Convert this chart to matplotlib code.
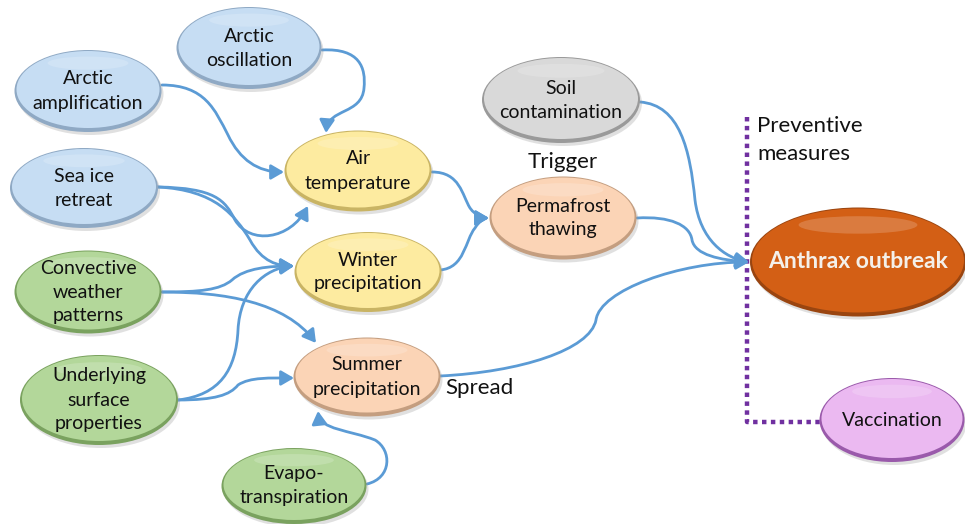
import matplotlib
matplotlib.use("Agg")
import matplotlib.pyplot as plt
from matplotlib.patches import Ellipse, FancyArrowPatch
from matplotlib.path import Path

plt.rcParams['font.family'] = ['Lato', 'DejaVu Sans']

# nodes: label, fill colour, rim colour
node_names = ["osc", "amp", "ice", "air", "winter", "summer", "conv", "under",
              "evapo", "soil", "perma", "anthrax", "vacc"]
node_labels = ["Arctic\noscillation", "Arctic\namplification", "Sea ice\nretreat",
               "Air\ntemperature", "Winter\nprecipitation", "Summer\nprecipitation",
               "Convective\nweather\npatterns", "Underlying\nsurface\nproperties",
               "Evapo-\ntranspiration", "Soil\ncontamination", "Permafrost\nthawing",
               "Anthrax outbreak", "Vaccination"]
edges = [("osc", "air"), ("amp", "air"), ("ice", "air"), ("ice", "winter"),
         ("conv", "winter"), ("conv", "summer"), ("under", "winter"),
         ("under", "summer"), ("evapo", "summer"), ("air", "perma"),
         ("winter", "perma"), ("perma", "anthrax"), ("soil", "anthrax"),
         ("summer", "anthrax")]
side_labels = ["Trigger", "Spread", "Preventive\nmeasures"]

# layout in pixel units (x right, y down)
layout = {
    "osc": (249, 48, 145, 82), "amp": (88, 91, 147, 82), "ice": (84, 188, 148, 80),
    "air": (358, 171, 147, 81), "winter": (368, 272, 147, 80),
    "summer": (367, 377, 147, 79), "conv": (88, 292, 147, 83),
    "under": (99, 400, 158, 90), "evapo": (294, 486, 145, 76),
    "soil": (561, 100, 158, 86), "perma": (563, 218, 147, 83),
    "anthrax": (858, 262, 216, 109), "vacc": (892, 420, 145, 84),
}
styles = {
    "blue": ("#c6ddf3", "#8fa9c4"), "yellow": ("#fdeba0", "#c9b464"),
    "green": ("#b3d79a", "#7aa25f"), "peach": ("#fbd4b6", "#c49e80"),
    "gray": ("#d9d9d9", "#9a9a9a"), "orange": ("#d35f15", "#9a4510"),
    "pink": ("#ebb9f1", "#9a5aab"),
}
node_style = {"osc": "blue", "amp": "blue", "ice": "blue", "air": "yellow",
              "winter": "yellow", "summer": "peach", "conv": "green",
              "under": "green", "evapo": "green", "soil": "gray",
              "perma": "peach", "anthrax": "orange", "vacc": "pink"}

# bezier routes (start, then control, control, end ...)
routes = {
    ("osc", "air"): [(322, 50), (360, 48), (366, 68), (364, 88), (362, 115), (328, 108), (326, 133)],
    ("amp", "air"): [(162, 85), (205, 85), (215, 110), (228, 135), (240, 160), (258, 172), (284, 172)],
    ("ice", "air"): [(158, 187), (215, 188), (225, 200), (235, 220), (250, 245), (290, 240), (308, 206)],
    ("ice", "winter"): [(158, 187), (215, 190), (235, 215), (250, 240), (262, 262), (278, 266), (294, 266)],
    ("conv", "winter"): [(162, 292), (200, 292), (220, 290), (232, 280), (245, 268), (270, 266), (294, 266)],
    ("conv", "summer"): [(162, 292), (225, 292), (285, 302), (316, 343)],
    ("under", "winter"): [(178, 400), (220, 395), (236, 370), (238, 330), (240, 290), (265, 268), (294, 266)],
    ("under", "summer"): [(178, 400), (215, 400), (230, 395), (238, 385), (250, 377), (270, 378), (294, 378)],
    ("evapo", "summer"): [(367, 484), (392, 478), (392, 450), (375, 440), (350, 430), (320, 430), (318, 411)],
    ("air", "perma"): [(432, 172), (460, 172), (462, 195), (470, 208), (476, 216), (482, 218), (489, 218)],
    ("winter", "perma"): [(440, 270), (465, 268), (465, 240), (475, 228), (480, 220), (485, 218), (489, 218)],
    ("perma", "anthrax"): [(637, 218), (670, 216), (690, 225), (692, 240), (695, 255), (720, 260), (749, 262)],
    ("soil", "anthrax"): [(640, 102), (680, 105), (690, 150), (695, 200), (700, 240), (725, 258), (749, 262)],
    ("summer", "anthrax"): [(440, 376), (520, 372), (590, 350), (596, 320), (600, 290), (680, 262), (749, 262)],
}

fig = plt.figure(figsize=(9.65, 5.24), dpi=100)
ax = fig.add_axes([0, 0, 1, 1])
ax.set_xlim(0, 965)
ax.set_ylim(524, 0)
ax.axis("off")

# arrows first, nodes on top
for e in edges:
    pts = routes[e]
    codes = [Path.MOVETO] + [Path.CURVE4] * (len(pts) - 1)
    arr = FancyArrowPatch(path=Path(pts, codes),
                          arrowstyle="-|>,head_length=0.55,head_width=0.32",
                          mutation_scale=14, color="#5b9bd5", lw=2, zorder=2)
    ax.add_patch(arr)

for name, label in zip(node_names, node_labels):
    x, y, w, h = layout[name]
    fill, rim = styles[node_style[name]]
    ax.add_patch(Ellipse((x + 2, y + 3), w, h, facecolor="#9a9a9a", alpha=0.3,
                         edgecolor="none", zorder=3))
    ax.add_patch(Ellipse((x, y), w, h, facecolor=rim, edgecolor="none", zorder=4))
    ax.add_patch(Ellipse((x, y - 1.5), w - 4, h - 5, facecolor=fill,
                         edgecolor="none", zorder=5))
    ax.add_patch(Ellipse((x, y - h * 0.34), w * 0.55, h * 0.16, facecolor="white",
                         alpha=0.18, edgecolor="none", zorder=6))
    if name == "anthrax":
        ax.text(x, y, label, ha="center", va="center", fontsize=16.5,
                fontweight="bold", color="#f4f0ea", zorder=7)
    else:
        ax.text(x, y, label, ha="center", va="center", fontsize=14,
                color="#111111", linespacing=1.5, zorder=7)

# preventive measures bracket
ax.plot([747, 747, 820], [117, 422, 422], color="#7030a0", lw=3.2,
        dashes=(1.0, 1.0), dash_capstyle="butt", zorder=1)

ax.text(563, 162, side_labels[0], ha="center", va="center", fontsize=16, color="#111111")
ax.text(445, 388, side_labels[1], ha="left", va="center", fontsize=16, color="#111111")
ax.text(757, 140, side_labels[2], ha="left", va="center", fontsize=16,
        color="#111111", linespacing=1.45)

fig.savefig("out.png", dpi=100)
